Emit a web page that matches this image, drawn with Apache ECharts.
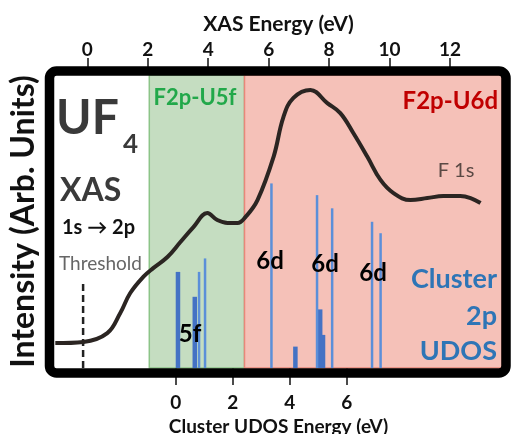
<!DOCTYPE html>
<html><head><meta charset="utf-8">
<script src="https://cdn.jsdelivr.net/npm/echarts@6/dist/echarts.min.js"></script>
<style>html,body{margin:0;padding:0;background:#fff}#c{width:511px;height:434px}</style>
</head><body><div id="c"></div>
<script>
// XAS spectrum (top axis, XAS Energy in eV)
const xasEnergy = [-1.06, -0.13, 0.66, 1.09, 1.42, 1.85, 2.18, 2.65, 3.08, 3.51, 3.97, 4.30, 4.64, 4.97, 5.23, 5.63, 6.16, 6.49, 6.82, 7.38, 7.94, 8.37, 8.80, 9.27, 9.70, 10.13, 10.69, 11.25, 11.78, 12.34, 12.68, 13.01];
const xasIntensity = [8.5, 8.9, 11.9, 18.8, 25.6, 31.1, 34.1, 37.9, 43.0, 48.1, 52.9, 50.5, 49.5, 49.5, 51.5, 57.3, 72.0, 85.7, 92.2, 94.9, 90.4, 87.0, 80.2, 72.0, 64.2, 59.7, 57.3, 58.0, 58.7, 58.7, 58.0, 56.3];
// Cluster 2p UDOS sticks (bottom axis, Cluster UDOS Energy in eV)
const udosThinEnergy = [0.82, 1.03, 3.36, 4.96, 5.49, 6.89, 7.19];
const udosThinIntensity = [32.8, 37.4, 63.0, 59.0, 54.5, 49.9, 46.0];
const udosWideEnergy = [0.08, 0.67, 4.20, 5.07, 5.17];
const udosWideIntensity = [32.8, 24.3, 7.3, 20.0, 11.3];
// Regions and threshold (XAS energy)
const bandU5f = [2.05, 5.2];
const bandU6d = [5.2, 13.72];
const thresholdEnergy = -0.14;
const thresholdTop = 30;
// Tick labels
const topTicks = [0, 2, 4, 6, 8, 10, 12];
const bottomTicks = [0, 2, 4, 6];

const F = 'Lato';
const chart = echarts.init(document.getElementById('c'), null, {renderer: 'canvas'});

function stickSeries(name, xs, ys, w, color) {
  return {
    name, type: 'custom', xAxisIndex: 1, yAxisIndex: 0, z: 3,
    data: xs.map((x, i) => [x, ys[i]]),
    renderItem: function (params, api) {
      const b = api.coord([api.value(0), 0]);
      const t = api.coord([api.value(0), api.value(1)]);
      return {type: 'rect', shape: {x: b[0] - w / 2, y: t[1], width: w, height: b[1] - t[1]}, style: {fill: color}};
    }
  };
}

function txt(text, x, y, size, weight, color, align) {
  return {type: 'text', z: 120, style: {text, x, y, fill: color, font: weight + ' ' + size + 'px ' + F,
    align: align || 'left', textAlign: align || 'left', verticalAlign: 'middle', textVerticalAlign: 'middle'}};
}

const option = {
  animation: false,
  backgroundColor: '#fff',
  grid: {left: 55, right: 9, top: 75, bottom: 66, containLabel: false, outerBoundsMode: 'none'},
  xAxis: [
    {type: 'value', position: 'top', min: -1.07, max: 13.72,
      name: 'XAS Energy (eV)', nameLocation: 'middle', nameGap: 37,
      nameTextStyle: {fontFamily: F, fontWeight: 'bold', fontSize: 21, color: '#111', verticalAlign: 'bottom'},
      axisLine: {show: false, onZero: false}, splitLine: {show: false},
      axisTick: {show: true, inside: false, customValues: topTicks, length: 17, lineStyle: {color: '#111', width: 1.5}},
      axisLabel: {customValues: topTicks, margin: 16, verticalAlign: 'bottom', fontFamily: F, fontWeight: 'bold', fontSize: 19, color: '#111'}},
    {type: 'value', position: 'bottom', min: -4.235, max: 11.45,
      name: 'Cluster UDOS Energy (eV)', nameLocation: 'middle', nameGap: 45,
      nameTextStyle: {fontFamily: F, fontWeight: 'bold', fontSize: 19, color: '#111', verticalAlign: 'top'},
      axisLine: {show: false, onZero: false}, splitLine: {show: false},
      axisTick: {show: true, inside: false, customValues: bottomTicks, length: 17, lineStyle: {color: '#111', width: 1.5}},
      axisLabel: {customValues: bottomTicks, margin: 18, verticalAlign: 'top', padding: [7, 0, 0, 0], fontFamily: F, fontWeight: 'bold', fontSize: 19, color: '#111'}}
  ],
  yAxis: [{type: 'value', min: 0, max: 100, name: 'Intensity (Arb. Units)', nameLocation: 'middle', nameGap: 15,
    nameTextStyle: {fontFamily: F, fontWeight: 'bold', fontSize: 32, color: '#111'},
    axisLine: {show: false, onZero: false}, axisTick: {show: false}, axisLabel: {show: false}, splitLine: {show: false}}],
  series: [
    {name: 'F 1s XAS', type: 'line', xAxisIndex: 0, yAxisIndex: 0, z: 5, smooth: 0.4, symbol: 'none',
      data: xasEnergy.map((x, i) => [x, xasIntensity[i]]),
      lineStyle: {color: '#2b2522', width: 4},
      markArea: {silent: true, label: {show: false},
        data: [
          [{xAxis: bandU5f[0], itemStyle: {color: '#c5ddc1', borderColor: '#8cc488', borderWidth: 1.5}}, {xAxis: bandU5f[1]}],
          [{xAxis: bandU6d[0], itemStyle: {color: '#f5c1b8', borderColor: '#e8877a', borderWidth: 1.5}}, {xAxis: bandU6d[1]}]
        ]}},
    {name: 'Threshold', type: 'line', xAxisIndex: 0, yAxisIndex: 0, z: 4, symbol: 'none',
      data: [[thresholdEnergy, 0], [thresholdEnergy, thresholdTop]],
      lineStyle: {color: '#222', width: 2.5, type: [7, 4]}},
    stickSeries('UDOS wide', udosWideEnergy, udosWideIntensity, 4.5, '#4472c4'),
    stickSeries('UDOS', udosThinEnergy, udosThinIntensity, 2.5, '#5b8fd9')
  ],
  graphic: [
    {type: 'rect', z: 110, shape: {x: 49.5, y: 71, width: 456.5, height: 302, r: 7},
      style: {fill: null, stroke: '#000', lineWidth: 9.5}},
    txt('UF', 56, 119, 48, 'bold', '#3a3a3a'),
    txt('4', 123, 145, 26, 'bold', '#3a3a3a'),
    txt('XAS', 60, 191, 32, 'bold', '#3a3a3a'),
    txt('1s \u2192 2p', 62, 228, 20, 'bold', '#111'),
    txt('Threshold', 59, 264, 19, 'normal', '#666'),
    txt('F2p-U5f', 195, 98, 22, 'bold', '#22a84a', 'center'),
    txt('F2p-U6d', 498, 101, 24, 'bold', '#c00000', 'right'),
    txt('F 1s', 456, 171, 20, 'normal', '#5a4944', 'center'),
    txt('6d', 270, 261, 24, 'bold', '#000', 'center'),
    txt('6d', 325, 264, 24, 'bold', '#000', 'center'),
    txt('6d', 373, 273, 24, 'bold', '#000', 'center'),
    txt('5f', 190, 334, 24, 'bold', '#000', 'center'),
    txt('Cluster', 497, 279, 27, 'bold', '#2e75b6', 'right'),
    txt('2p', 497, 316, 27, 'bold', '#2e75b6', 'right'),
    txt('UDOS', 497, 351, 27, 'bold', '#2e75b6', 'right')
  ]
};
chart.setOption(option);
</script>
</body></html>
